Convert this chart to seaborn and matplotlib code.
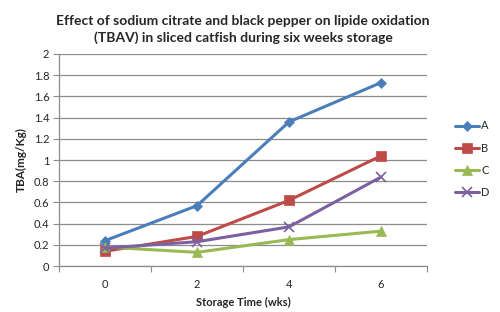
import matplotlib
matplotlib.use("Agg")
import matplotlib.pyplot as plt
import pandas as pd
import seaborn as sns

weeks = ["0", "2", "4", "6"]
series_names = ["A", "B", "C", "D"]
values_a = [0.24, 0.57, 1.36, 1.73]
values_b = [0.14, 0.28, 0.62, 1.04]
values_c = [0.18, 0.13, 0.25, 0.33]
values_d = [0.17, 0.23, 0.37, 0.84]

colors = ["#4A7EBB", "#BE4B48", "#98B954", "#7D60A0"]
markers = ["D", "s", "^", "x"]
marker_sizes = [5.5, 7, 7.5, 7]

sns.set_style("white")
plt.rcParams["font.family"] = ["Lato", "DejaVu Sans"]

df = pd.DataFrame(
    {
        "week": weeks * 4,
        "series": [s for s in series_names for _ in weeks],
        "value": values_a + values_b + values_c + values_d,
    }
)

fig = plt.figure(figsize=(5, 3.12), dpi=100)
ax = fig.add_axes([0.118, 0.147, 0.736, 0.68])

for name, color, marker, ms in zip(series_names, colors, markers, marker_sizes):
    sub = df[df["series"] == name]
    sns.lineplot(
        data=sub,
        x="week",
        y="value",
        ax=ax,
        color=color,
        marker=marker,
        markersize=ms,
        markeredgecolor=color,
        markeredgewidth=1.2 if marker == "x" else 0.5,
        linewidth=2.2,
        label=name,
        sort=False,
    )

ax.set_xlim(-0.5, 3.5)
ax.set_ylim(0, 2)
ax.set_yticks([i / 5 for i in range(11)])
ax.set_yticklabels(["0", "0.2", "0.4", "0.6", "0.8", "1", "1.2", "1.4", "1.6", "1.8", "2"])
ax.yaxis.grid(True, color="#8C8C8C", linewidth=0.9)
ax.set_axisbelow(True)

# category boundaries ticks on the x axis
ax.set_xticks([-0.5, 0.5, 1.5, 2.5, 3.5], minor=False)
ax.set_xticklabels([])
ax.set_xticks([0, 1, 2, 3], minor=True)
ax.set_xticklabels(weeks, minor=True)
ax.tick_params(axis="x", which="major", length=4, color="#8C8C8C", direction="out", bottom=True)
ax.tick_params(axis="x", which="minor", length=0, labelsize=8, pad=9)
ax.tick_params(axis="y", length=4, color="#8C8C8C", direction="out", left=True, labelsize=8, pad=3)

for side in ["top", "right"]:
    ax.spines[side].set_visible(False)
for side in ["left", "bottom"]:
    ax.spines[side].set_color("#8C8C8C")
    ax.spines[side].set_linewidth(0.9)

ax.set_xlabel("Storage Time (wks)", fontsize=8, fontweight="bold", labelpad=5)
ax.set_ylabel("TBA(mg/Kg)", fontsize=8.5, fontweight="bold", labelpad=5)
ax.set_title(
    "Effect of sodium citrate and black pepper on lipide oxidation\n"
    "(TBAV) in sliced catfish during six weeks storage",
    fontsize=10,
    fontweight="bold",
    pad=9,
    linespacing=1.35,
)

ax.legend(
    loc="center left",
    bbox_to_anchor=(0.89, 0.49),
    bbox_transform=fig.transFigure,
    frameon=False,
    fontsize=8,
    handlelength=2.2,
    handletextpad=0.15,
    labelspacing=1.0,
)

fig.savefig("out.png", dpi=100)
